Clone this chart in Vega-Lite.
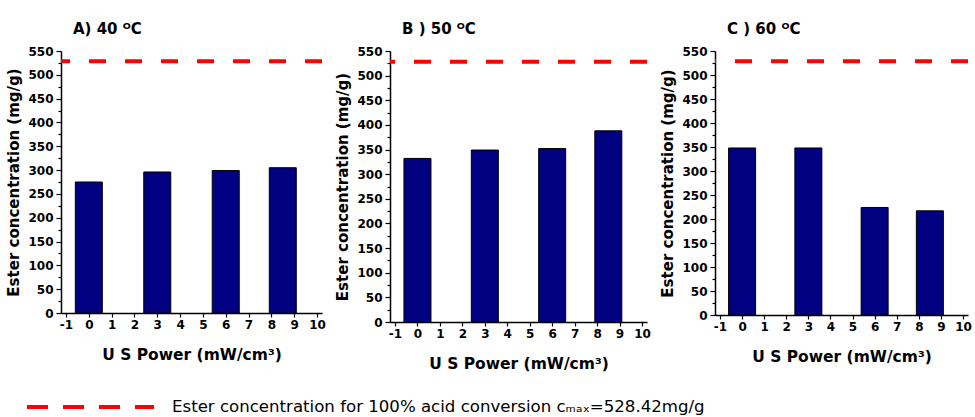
{
  "$schema": "https://vega.github.io/schema/vega-lite/v6.json",
  "padding": {"left": 6, "top": 22, "right": 0, "bottom": 0},
  "bounds": "flush",
  "spacing": 68,
  "datasets": {
    "bars": [
      {"panel": "A", "power": 0, "conc": 275},
      {"panel": "A", "power": 3, "conc": 296},
      {"panel": "A", "power": 6, "conc": 299},
      {"panel": "A", "power": 8.5, "conc": 305},
      {"panel": "B", "power": 0, "conc": 332},
      {"panel": "B", "power": 3, "conc": 349},
      {"panel": "B", "power": 6, "conc": 352},
      {"panel": "B", "power": 8.5, "conc": 388},
      {"panel": "C", "power": 0, "conc": 348},
      {"panel": "C", "power": 3, "conc": 348},
      {"panel": "C", "power": 6, "conc": 224},
      {"panel": "C", "power": 8.5, "conc": 217}
    ],
    "ref": [
      {"label": "Ester concentration for 100% acid conversion cₘₐₓ=528.42mg/g", "conc": 528.42}
    ]
  },
  "config": {
    "view": {"stroke": null},
    "axis": {
      "grid": false,
      "labelFont": "DejaVu Sans",
      "labelFontWeight": "bold",
      "labelFontSize": 12,
      "labelColor": "#000000",
      "labelOverlap": false,
      "titleFont": "DejaVu Sans",
      "titleFontWeight": "bold",
      "titleColor": "#000000",
      "domainColor": "#000000",
      "domainWidth": 1.5,
      "tickColor": "#000000",
      "tickWidth": 1.2
    },
    "axisX": {
      "titleFontSize": 15.5,
      "titlePadding": 17,
      "labelPadding": 2,
      "tickSize": 4
    },
    "axisY": {
      "titleFontSize": 15,
      "titlePadding": 6,
      "labelPadding": 3
    },
    "title": {
      "font": "DejaVu Sans",
      "fontWeight": "bold",
      "fontSize": 15,
      "color": "#000000",
      "anchor": "start",
      "frame": "group",
      "dx": 12,
      "offset": 8
    }
  },
  "hconcat": [
    {
      "title": "A) 40 ᴼC",
      "width": 261,
      "height": 262,
      "encoding": {
        "y": {"field": "conc", "type": "quantitative", "scale": {"domain": [0, 550], "nice": false}, "axis": {"title": "Ester concentration (mg/g)", "values": [0, 25, 50, 75, 100, 125, 150, 175, 200, 225, 250, 275, 300, 325, 350, 375, 400, 425, 450, 475, 500, 525, 550], "labelOverlap": false, "labelFlush": false, "labelExpr": "datum.value % 50 === 0 ? '' + datum.value : ''", "tickSize": {"condition": {"test": "datum.value % 50 === 0", "value": 5}, "value": 3}}}
      },
      "layer": [
        {
          "data": {"name": "bars"},
          "transform": [{"filter": "datum.panel === 'A'"}],
          "mark": {"type": "bar", "size": 27, "fill": "#000080", "stroke": "#000000", "strokeWidth": 1},
          "encoding": {
            "x": {"field": "power", "type": "quantitative", "scale": {"domain": [-1, 10], "nice": false}, "axis": {"title": "U S Power (mW/cm³)", "values": [-1, 0, 1, 2, 3, 4, 5, 6, 7, 8, 9, 10], "labelExpr": "'' + datum.value"}}
          }
        },
        {
          "data": {"name": "ref"},
          "mark": {"type": "rule", "strokeWidth": 4, "strokeDash": [17, 19]},
          "encoding": {
            "color": {"field": "label", "type": "nominal", "scale": {"range": ["#ff0000"]}, "legend": {"orient": "none", "legendX": -36, "legendY": 348, "title": null, "symbolType": "stroke", "symbolSize": 16129, "symbolStrokeWidth": 4, "symbolDash": [21, 15], "clipHeight": 16, "labelFontSize": 16.6, "labelFont": "DejaVu Sans", "labelLimit": 800, "labelOffset": 16, "labelColor": "#000000"}}
          }
        }
      ]
    },
    {
      "title": "B ) 50 ᴼC",
      "width": 257,
      "height": 271,
      "encoding": {
        "y": {"field": "conc", "type": "quantitative", "scale": {"domain": [0, 550], "nice": false}, "axis": {"title": "Ester concentration (mg/g)", "values": [0, 25, 50, 75, 100, 125, 150, 175, 200, 225, 250, 275, 300, 325, 350, 375, 400, 425, 450, 475, 500, 525, 550], "labelOverlap": false, "labelFlush": false, "labelExpr": "datum.value % 50 === 0 ? '' + datum.value : ''", "tickSize": {"condition": {"test": "datum.value % 50 === 0", "value": 5}, "value": 3}}}
      },
      "layer": [
        {
          "data": {"name": "bars"},
          "transform": [{"filter": "datum.panel === 'B'"}],
          "mark": {"type": "bar", "size": 27, "fill": "#000080", "stroke": "#000000", "strokeWidth": 1},
          "encoding": {
            "x": {"field": "power", "type": "quantitative", "scale": {"domain": [-1, 10], "nice": false}, "axis": {"title": "U S Power (mW/cm³)", "values": [-1, 0, 1, 2, 3, 4, 5, 6, 7, 8, 9, 10], "labelExpr": "'' + datum.value"}}
          }
        },
        {
          "data": {"name": "ref"},
          "mark": {"type": "rule", "strokeWidth": 4, "strokeDash": [17, 19]},
          "encoding": {
            "color": {"field": "label", "type": "nominal", "scale": {"range": ["#ff0000"]}}
          }
        }
      ]
    },
    {
      "title": "C ) 60 ᴼC",
      "width": 253,
      "height": 264,
      "encoding": {
        "y": {"field": "conc", "type": "quantitative", "scale": {"domain": [0, 550], "nice": false}, "axis": {"title": "Ester concentration (mg/g)", "values": [0, 25, 50, 75, 100, 125, 150, 175, 200, 225, 250, 275, 300, 325, 350, 375, 400, 425, 450, 475, 500, 525, 550], "labelOverlap": false, "labelFlush": false, "labelExpr": "datum.value % 50 === 0 ? '' + datum.value : ''", "tickSize": {"condition": {"test": "datum.value % 50 === 0", "value": 5}, "value": 3}}}
      },
      "layer": [
        {
          "data": {"name": "bars"},
          "transform": [{"filter": "datum.panel === 'C'"}],
          "mark": {"type": "bar", "size": 27, "fill": "#000080", "stroke": "#000000", "strokeWidth": 1},
          "encoding": {
            "x": {"field": "power", "type": "quantitative", "scale": {"domain": [-1, 10], "nice": false}, "axis": {"title": "U S Power (mW/cm³)", "values": [-1, 0, 1, 2, 3, 4, 5, 6, 7, 8, 9, 10], "labelExpr": "'' + datum.value"}}
          }
        },
        {
          "data": {"name": "ref"},
          "mark": {"type": "rule", "strokeWidth": 4, "strokeDash": [17, 19]},
          "encoding": {
            "color": {"field": "label", "type": "nominal", "scale": {"range": ["#ff0000"]}}
          }
        }
      ]
    }
  ]
}
